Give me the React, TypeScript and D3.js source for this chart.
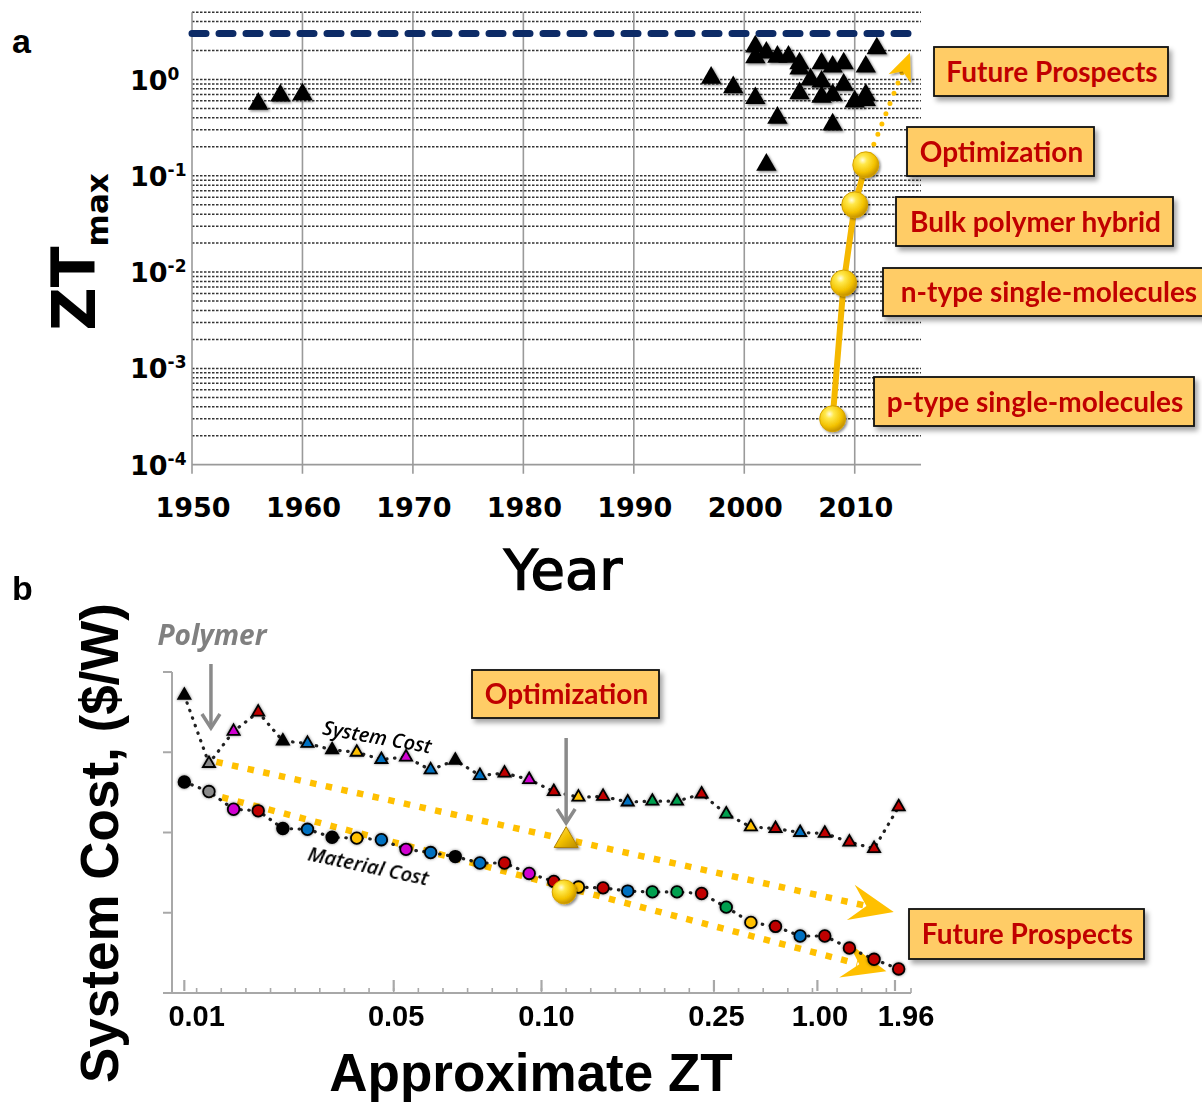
import * as d3 from 'd3';

// ---------- panel a : ZT max vs year ----------
const decadeYears = [1950, 1960, 1970, 1980, 1990, 2000, 2010];
const decadeExp = [0, -1, -2, -3, -4];

const bulkYear = [1956, 1958, 1960, 1997, 1999, 2001, 2001, 2001, 2002, 2002, 2003, 2003, 2004, 2005, 2005, 2005, 2006, 2007, 2007, 2007, 2008, 2008, 2008, 2009, 2009, 2010, 2011, 2011, 2011, 2012];
const bulkZT = [0.56, 0.68, 0.7, 1.04, 0.83, 0.64, 2.2, 1.7, 1.9, 0.13, 1.72, 0.4, 1.72, 1.47, 1.3, 0.72, 1.0, 1.47, 0.95, 0.66, 1.36, 0.69, 0.34, 1.47, 0.88, 0.59, 1.36, 0.69, 0.61, 2.1];

const molYear = [2008, 2009, 2010, 2011];
const molZT = [0.0003, 0.0077, 0.05, 0.13];
const targetZT = 3;
const prospectYear = 2015;
const prospectZT = 1.9;

// ---------- panel b : system cost vs approximate ZT ----------
const systemCost = [3.71, 2.86, 3.26, 3.5, 3.14, 3.11, 3.03, 3.0, 2.91, 2.94, 2.78, 2.9, 2.71, 2.74, 2.66, 2.51, 2.44, 2.45, 2.38, 2.39, 2.39, 2.48, 2.23, 2.07, 2.05, 2.0, 1.99, 1.88, 1.8, 2.32];
const materialCost = [2.63, 2.51, 2.29, 2.27, 2.05, 2.04, 1.94, 1.93, 1.91, 1.79, 1.75, 1.7, 1.62, 1.62, 1.49, 1.39, 1.32, 1.31, 1.27, 1.26, 1.26, 1.24, 1.07, 0.88, 0.83, 0.71, 0.71, 0.56, 0.42, 0.3];
const pointColor = ['#000', '#8a8a8a', '#d000d0', '#c00000', '#000', '#0070c0', '#000', '#ffc000', '#0070c0', '#d000d0', '#0070c0', '#000', '#0070c0', '#c00000', '#d000d0', '#c00000', '#ffc000', '#c00000', '#0070c0', '#00a050', '#00a050', '#c00000', '#00a050', '#ffc000', '#c00000', '#0070c0', '#c00000', '#c00000', '#c00000', '#c00000'];
const ztLabels = ['0.01', '0.05', '0.10', '0.25', '1.00', '1.96'];
const ztTickAt = [0, 8.5, 14.5, 21.5, 25.7, 28.85];
const ztLabelAt = [0.5, 8.6, 14.7, 21.6, 25.8, 29.3];
const costTicks = [0, 1, 2, 3, 4];
const polymerAt = 1;
const optimizationAt = 15.5;
const optSystem = 1.9;
const optMaterial = 1.26;
const systemTrend: [number, number][] = [[1.3, 2.88], [28.8, 1.01]];
const materialTrend: [number, number][] = [[0.9, 2.49], [28.5, 0.27]];

const RED = '#c00000';
const BOX = '#ffcc66';

const boxesA = [
    { text: 'Future Prospects', x: 934, y: 47, w: 234, h: 49 },
    { text: 'Optimization', x: 907, y: 127, w: 187, h: 49 },
    { text: 'Bulk polymer hybrid', x: 896, y: 197, w: 277, h: 49 },
    { text: 'n-type single-molecules', x: 883, y: 268, w: 330, h: 48 },
    { text: 'p-type single-molecules', x: 874, y: 377, w: 320, h: 49 },
];
const boxesB = [
    { text: 'Optimization', x: 472, y: 670, w: 187, h: 48 },
    { text: 'Future Prospects', x: 909, y: 909, w: 235, h: 50 },
];

const Box = ({ text, x, y, w, h }: { text: string; x: number; y: number; w: number; h: number }) => (
    <g>
        <rect x={x} y={y} width={w} height={h} fill={BOX} stroke="#111" strokeWidth={1.8} filter="url(#boxShadow)" />
        <text x={x + w / 2 + 1} y={y + h / 2 + 10} textAnchor="middle" fill={RED} fontFamily="Lato" fontWeight={700} fontSize={28}>
            {text}
        </text>
    </g>
);

// notched arrow head, local coords pointing along +x, tip at origin
const headPath = (tip: [number, number], angle: number, len: number, half: number, notch: number) => {
    const c = Math.cos(angle), s = Math.sin(angle);
    const pts: [number, number][] = [[0, 0], [-len, -half], [-notch, 0], [-len, half]];
    return 'M' + pts.map(([px, py]) => `${tip[0] + px * c - py * s},${tip[1] + px * s + py * c}`).join('L') + 'Z';
};

export default function App() {
    const xA = d3.scaleLinear().domain([1950, 2016]).range([192, 921]);
    const yA = d3.scaleLog().domain([1e-4, 5]).range([464.7, 12.2]);
    const gridZT = yA.ticks().filter(v => v > 1.001e-4 && Math.abs(v - targetZT) > 1e-6);

    const xB = d3.scaleLinear().domain([-0.5, 29.5]).range([172, 911]);
    const yB = d3.scaleLinear().domain([0, 4]).range([993, 672]);
    const idx = d3.range(systemCost.length);

    const molLine = d3.line<number>().x(i => xA(molYear[i])).y(i => yA(molZT[i]));
    const sysLine = d3.line<number>().x(i => xB(i)).y(i => yB(systemCost[i]));
    const matLine = d3.line<number>().x(i => xB(i)).y(i => yB(materialCost[i]));

    const triBig = d3.symbol(d3.symbolTriangle, 180)() as string;
    const triSmall = d3.symbol(d3.symbolTriangle, 64)() as string;
    const triGold = d3.symbol(d3.symbolTriangle, 250)() as string;

    // panel a prospect arrow
    const pStart: [number, number] = [xA(molYear[3]), yA(molZT[3])];
    const pTip: [number, number] = [xA(prospectYear), yA(prospectZT)];
    const pAng = Math.atan2(pTip[1] - pStart[1], pTip[0] - pStart[0]);
    const pNotch: [number, number] = [pTip[0] - 20 * Math.cos(pAng), pTip[1] - 20 * Math.sin(pAng)];

    const trend = (t: [number, number][]) => {
        const a: [number, number] = [xB(t[0][0]), yB(t[0][1])];
        const b: [number, number] = [xB(t[1][0]), yB(t[1][1])];
        const ang = Math.atan2(b[1] - a[1], b[0] - a[0]);
        const n: [number, number] = [b[0] - 30 * Math.cos(ang), b[1] - 30 * Math.sin(ang)];
        return (
            <g>
                <line x1={a[0]} y1={a[1]} x2={n[0]} y2={n[1]} stroke="#ffc000" strokeWidth={6.5} strokeDasharray="6.5 9.5" />
                <path d={headPath(b, ang, 44, 18, 28)} fill="#ffc000" />
            </g>
        );
    };

    const optX = xB(optimizationAt);

    return (
        <svg width={1202} height={1103} style={{ position: 'absolute', left: 0, top: 0, background: '#fff' }}>
            <defs>
                <filter id="boxShadow" x="-10%" y="-20%" width="130%" height="160%">
                    <feDropShadow dx={3} dy={4} stdDeviation={2.5} floodColor="#000" floodOpacity={0.35} />
                </filter>
                <filter id="markShadow" x="-50%" y="-50%" width="200%" height="200%">
                    <feDropShadow dx={1.5} dy={1.5} stdDeviation={1.2} floodColor="#000" floodOpacity={0.45} />
                </filter>
                <filter id="glow" x="-50%" y="-50%" width="200%" height="200%">
                    <feDropShadow dx={0} dy={0} stdDeviation={1.4} floodColor="#000" floodOpacity={0.5} />
                </filter>
                <radialGradient id="goldBall" cx="0.38" cy="0.32" r="0.68">
                    <stop offset="0" stopColor="#fffce0" />
                    <stop offset="0.25" stopColor="#ffe84a" />
                    <stop offset="0.7" stopColor="#f3c200" />
                    <stop offset="1" stopColor="#c59200" />
                </radialGradient>
                <linearGradient id="goldTri" x1="0" y1="0" x2="1" y2="1">
                    <stop offset="0" stopColor="#ffe266" />
                    <stop offset="0.5" stopColor="#f2c000" />
                    <stop offset="1" stopColor="#b88a00" />
                </linearGradient>
            </defs>

            {/* ================= panel a ================= */}
            <text x={12} y={53} fontFamily="Liberation Sans" fontWeight={700} fontSize={34}>a</text>

            {gridZT.map((v, i) => (
                <line key={i} x1={xA(1950)} x2={xA(2016)} y1={yA(v)} y2={yA(v)} stroke="#333" strokeWidth={1.5} strokeDasharray="2.5 1.5" />
            ))}
            {decadeYears.map(yr => (
                <line key={yr} x1={xA(yr)} x2={xA(yr)} y1={yA(5)} y2={yA(1e-4) + 9} stroke="#9a9a9a" strokeWidth={1.6} />
            ))}
            <line x1={xA(1950)} x2={xA(2016)} y1={yA(1e-4)} y2={yA(1e-4)} stroke="#9a9a9a" strokeWidth={1.8} />
            <line x1={xA(1950)} x2={xA(2016)} y1={yA(targetZT)} y2={yA(targetZT)} stroke="#0d2b66" strokeWidth={7} strokeDasharray="14 13" strokeLinecap="round" />

            {decadeYears.map(yr => (
                <text key={yr} x={xA(yr) + 1} y={517} textAnchor="middle" fontFamily="DejaVu Sans" fontWeight={700} fontSize={27}>{yr}</text>
            ))}
            {decadeExp.map(e => (
                <text key={e} x={130} y={yA(Math.pow(10, e)) + 10} fontFamily="DejaVu Sans" fontWeight={700} fontSize={27}>
                    10<tspan fontSize={17} dy={-10}>{e}</tspan>
                </text>
            ))}
            <text transform="translate(95,252) rotate(-90)" textAnchor="middle" fontFamily="DejaVu Sans" fontWeight={700}>
                <tspan fontSize={60}>ZT</tspan>
                <tspan fontSize={31} dy={13}>max</tspan>
            </text>
            <text x={563} y={589} textAnchor="middle" fontFamily="DejaVu Sans" fontSize={56} stroke="#000" strokeWidth={1.4}>Year</text>

            <g filter="url(#markShadow)">
                {bulkYear.map((yr, i) => (
                    <path key={i} d={triBig} transform={`translate(${xA(yr)},${yA(bulkZT[i])})`} fill="#000" />
                ))}
            </g>

            <path d={molLine(d3.range(molYear.length)) as string} fill="none" stroke="#f5b800" strokeWidth={6} />
            <line x1={pStart[0]} y1={pStart[1]} x2={pNotch[0]} y2={pNotch[1]} stroke="#ffc000" strokeWidth={5} strokeDasharray="0 11" strokeLinecap="round" />
            <path d={headPath(pTip, pAng, 28, 12, 20)} fill="#ffc000" filter="url(#markShadow)" />
            {molYear.map((yr, i) => (
                <circle key={yr} cx={xA(yr)} cy={yA(molZT[i])} r={13} fill="url(#goldBall)" stroke="#d4a200" strokeWidth={1} filter="url(#markShadow)" />
            ))}

            {boxesA.map(b => <Box key={b.text} {...b} />)}

            {/* ================= panel b ================= */}
            <text x={12} y={600} fontFamily="Liberation Sans" fontWeight={700} fontSize={34}>b</text>

            <line x1={172} x2={172} y1={yB(4)} y2={yB(0)} stroke="#a8a8a8" strokeWidth={2} />
            {costTicks.map(t => (
                <line key={t} x1={163} x2={172} y1={yB(t)} y2={yB(t)} stroke="#a8a8a8" strokeWidth={2} />
            ))}
            <line x1={166} x2={xB(29.5)} y1={yB(0)} y2={yB(0)} stroke="#a8a8a8" strokeWidth={2} />
            {d3.range(0.5, 29.6, 1).map(k => (
                <line key={k} x1={xB(k)} x2={xB(k)} y1={yB(0)} y2={yB(0) - 5} stroke="#a8a8a8" strokeWidth={1.6} />
            ))}
            {ztTickAt.map((t, i) => (
                <line key={i} x1={xB(t)} x2={xB(t)} y1={yB(0) - 13} y2={yB(0) - 2} stroke="#a8a8a8" strokeWidth={2.2} />
            ))}
            {ztLabels.map((l, i) => (
                <text key={l} x={xB(ztLabelAt[i])} y={1026} textAnchor="middle" fontFamily="Liberation Sans" fontWeight={700} fontSize={29}>{l}</text>
            ))}
            <text x={531} y={1091} textAnchor="middle" fontFamily="Liberation Sans" fontWeight={700} fontSize={53}>Approximate ZT</text>
            <text transform="translate(118,843) rotate(-90)" textAnchor="middle" fontFamily="Liberation Sans" fontWeight={700} fontSize={53}>System Cost, ($/W)</text>

            {trend(systemTrend)}
            {trend(materialTrend)}

            <path d={sysLine(idx) as string} fill="none" stroke="#222" strokeWidth={3.2} strokeDasharray="0.5 7.5" strokeLinecap="round" />
            <path d={matLine(idx) as string} fill="none" stroke="#222" strokeWidth={3.2} strokeDasharray="0.5 7.5" strokeLinecap="round" />

            <g filter="url(#glow)">
                {idx.map(i => (
                    <path key={i} d={triSmall} transform={`translate(${xB(i)},${yB(systemCost[i])})`} fill={pointColor[i]} stroke="#000" strokeWidth={1.8} />
                ))}
                {idx.map(i => (
                    <circle key={i} cx={xB(i)} cy={yB(materialCost[i])} r={5.8} fill={pointColor[i]} stroke="#000" strokeWidth={1.8} />
                ))}
            </g>

            <text transform="translate(377,738) rotate(10)" textAnchor="middle" y={6} fontFamily="Open Sans" fontStyle="italic" fontWeight={600} fontSize={20}>System Cost</text>
            <text transform="translate(368,867) rotate(12)" textAnchor="middle" y={6} fontFamily="Open Sans" fontStyle="italic" fontWeight={600} fontSize={20}>Material Cost</text>

            <text x={212} y={645} textAnchor="middle" fill="#808080" fontFamily="Open Sans" fontStyle="italic" fontWeight={700} fontSize={28}>Polymer</text>
            <g stroke="#8a8a8a" strokeWidth={3.5} fill="none">
                <line x1={xB(polymerAt) + 2} x2={xB(polymerAt) + 2} y1={664} y2={727} />
                <path d={`M${xB(polymerAt) - 7},714 L${xB(polymerAt) + 2},728 L${xB(polymerAt) + 11},714`} />
                <line x1={optX} x2={optX} y1={738} y2={822} />
                <path d={`M${optX - 9},809 L${optX},823 L${optX + 9},809`} />
            </g>

            <path d={triGold} transform={`translate(${optX},${yB(optSystem)})`} fill="url(#goldTri)" stroke="#b08000" strokeWidth={1} filter="url(#markShadow)" />
            <circle cx={optX - 2} cy={yB(optMaterial)} r={12} fill="url(#goldBall)" stroke="#d4a200" strokeWidth={1} filter="url(#markShadow)" />

            {boxesB.map(b => <Box key={b.text} {...b} />)}
        </svg>
    );
}
